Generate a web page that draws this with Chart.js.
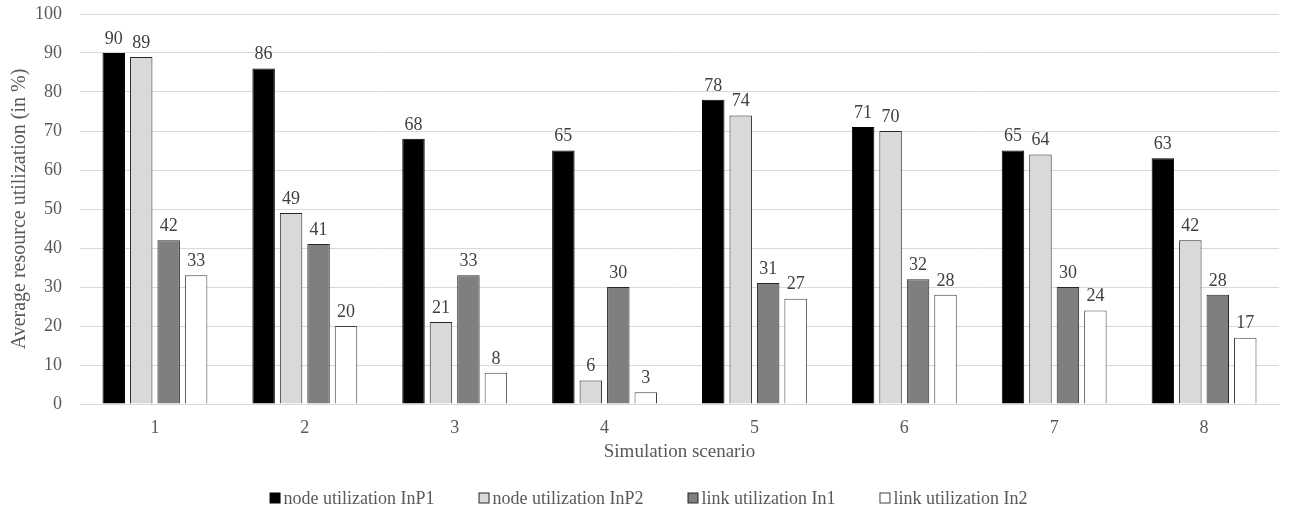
<!DOCTYPE html>
<html>
<head>
<meta charset="utf-8">
<script src="https://cdn.jsdelivr.net/npm/chart.js@4/dist/chart.umd.min.js"></script>
<style>
  html, body { margin: 0; padding: 0; background: #fff; }
  #wrap { width: 1289px; height: 510px; position: relative; }
</style>
</head>
<body>
<div id="wrap"><canvas id="c"></canvas></div>
<script>
// Scenario categories and utilization series (in %)
const scenarios = ['1', '2', '3', '4', '5', '6', '7', '8'];
const nodeInP1 = [90, 86, 68, 65, 78, 71, 65, 63];
const nodeInP2 = [89, 49, 21, 6, 74, 70, 64, 42];
const linkIn1 = [42, 41, 33, 30, 31, 32, 30, 28];
const linkIn2 = [33, 20, 8, 3, 27, 28, 24, 17];
const seriesNames = ['node utilization InP1', 'node utilization InP2', 'link utilization In1', 'link utilization In2'];

const FONT = '"Liberation Serif", "Times New Roman", serif';
const TEXT = '#595959';

// Value labels above each bar
const valueLabels = {
  id: 'valueLabels',
  afterDatasetsDraw(chart) {
    const ctx = chart.ctx;
    ctx.save();
    ctx.font = '18px ' + FONT;
    ctx.fillStyle = '#404040';
    ctx.textAlign = 'center';
    ctx.textBaseline = 'bottom';
    chart.data.datasets.forEach((ds, i) => {
      const meta = chart.getDatasetMeta(i);
      meta.data.forEach((bar, j) => {
        ctx.fillText(String(ds.data[j]), bar.x, bar.y - 5);
      });
    });
    ctx.restore();
  }
};

// Compact legend row: small square swatch right next to its text
const compactLegend = {
  id: 'compactLegend',
  afterDraw(chart) {
    const ctx = chart.ctx;
    const box = 11, gap = 3, spacing = 44;
    ctx.save();
    ctx.font = '18px ' + FONT;
    const items = chart.data.datasets.map(ds => ({
      ds, w: box + gap + ctx.measureText(ds.label).width
    }));
    const total = items.reduce((s, it) => s + it.w, 0) + spacing * (items.length - 1);
    let x = chart.width / 2 + 4 - total / 2;
    const cy = chart.height - 12;
    items.forEach(it => {
      ctx.fillStyle = it.ds.backgroundColor;
      ctx.fillRect(x + 0.5, cy - box / 2 + 0.5, box - 1, box - 1);
      ctx.strokeStyle = it.ds.borderColor;
      ctx.lineWidth = 1;
      ctx.strokeRect(x + 0.5, cy - box / 2 + 0.5, box - 1, box - 1);
      ctx.fillStyle = TEXT;
      ctx.textAlign = 'left';
      ctx.textBaseline = 'middle';
      ctx.fillText(it.ds.label, x + box + gap, cy + 1);
      x += it.w + spacing;
    });
    ctx.restore();
  }
};

new Chart(document.getElementById('c'), {
  type: 'bar',
  data: {
    labels: scenarios,
    datasets: [
      { label: seriesNames[0], data: nodeInP1, backgroundColor: '#000000', borderColor: '#000000', borderWidth: 1 },
      { label: seriesNames[1], data: nodeInP2, backgroundColor: '#d9d9d9', borderColor: '#262626', borderWidth: 1 },
      { label: seriesNames[2], data: linkIn1, backgroundColor: '#7f7f7f', borderColor: '#262626', borderWidth: 1 },
      { label: seriesNames[3], data: linkIn2, backgroundColor: '#ffffff', borderColor: '#404040', borderWidth: 1 }
    ]
  },
  options: {
    responsive: true,
    maintainAspectRatio: false,
    animation: false,
    categoryPercentage: 0.733,
    barPercentage: 0.818,
    layout: { padding: { top: 14, right: 10, left: 0, bottom: 47 } },
    plugins: {
      legend: { display: false },
      tooltip: { enabled: false }
    },
    scales: {
      x: {
        grid: { display: false, drawTicks: false },
        border: { color: '#d9d9d9' },
        ticks: { font: { family: FONT, size: 18 }, color: TEXT, padding: 13 },
        title: { display: true, text: 'Simulation scenario', font: { family: FONT, size: 19 }, color: TEXT, padding: { top: 4, bottom: 0 } },
        afterFit(scale) { scale.height = 59; }
      },
      y: {
        min: 0,
        max: 100,
        ticks: { stepSize: 10, font: { family: FONT, size: 18, lineHeight: 1 }, color: TEXT, padding: 0 },
        grid: { color: '#d9d9d9', drawTicks: true, tickLength: 18, tickColor: 'rgba(0,0,0,0)' },
        border: { display: false },
        title: { display: true, text: 'Average resource utilization (in %)', font: { family: FONT, size: 20 }, color: TEXT, padding: { top: 8, bottom: 0 } },
        afterFit(scale) { scale.width = 80; }
      }
    }
  },
  plugins: [valueLabels, compactLegend]
});
</script>
</body>
</html>
